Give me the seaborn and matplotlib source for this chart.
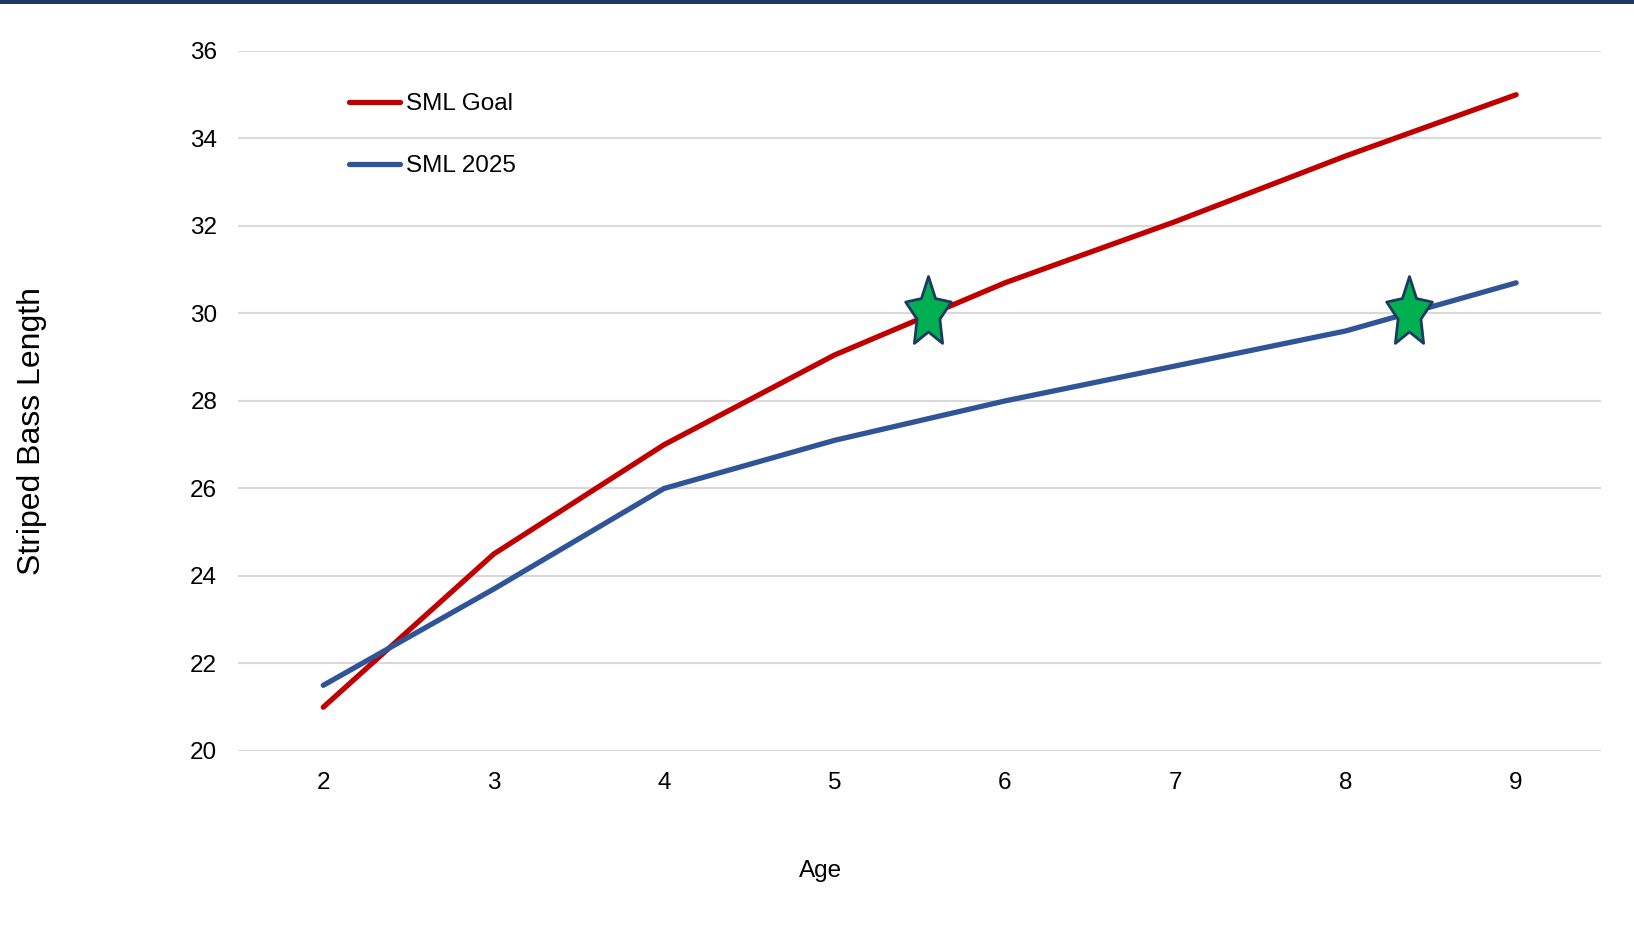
import matplotlib
matplotlib.use("Agg")
import matplotlib.pyplot as plt
import seaborn as sns
import pandas as pd
from matplotlib.path import Path
from matplotlib.patches import Rectangle

# data
ages = [2, 3, 4, 5, 6, 7, 8, 9]
goal_lengths = [21.0, 24.5, 27.0, 29.05, 30.7, 32.1, 33.6, 35.0]
current_lengths = [21.5, 23.7, 26.0, 27.1, 28.0, 28.8, 29.6, 30.7]
series_names = ["SML Goal", "SML 2025"]
star_ages = [5.55, 8.37]
star_lengths = [30, 30]
y_ticks = [20, 22, 24, 26, 28, 30, 32, 34, 36]


def make_plot():
    df = pd.DataFrame({
        "Age": ages * 2,
        "Length": goal_lengths + current_lengths,
        "Series": [series_names[0]] * len(ages) + [series_names[1]] * len(ages),
    })

    sns.set_theme(style="white")
    plt.rcParams["font.family"] = ["Liberation Sans", "DejaVu Sans"]
    plt.rcParams["text.color"] = "black"

    fig = plt.figure(figsize=(16.34, 9.42), dpi=100)
    ax = fig.add_axes([0.1457, 0.2028, 0.98 - 0.1457, 0.9459 - 0.2028])

    sns.lineplot(data=df, x="Age", y="Length", hue="Series", hue_order=series_names,
                 palette=["#C00000", "#2F5597"], linewidth=3.8, ax=ax,
                 solid_capstyle="round")

    # narrow five-point star like the one in the reference
    star = Path.unit_regular_star(5)
    verts = star.vertices.copy()
    verts[:, 0] *= 0.65
    star_marker = Path(verts, star.codes)
    sns.scatterplot(x=star_ages, y=star_lengths, marker=star_marker, s=2830,
                    color="#00B050", edgecolor="#1F3864", linewidth=2.0,
                    ax=ax, zorder=5, legend=False)

    ax.set_xlim(1.5, 9.5)
    ax.set_ylim(20, 36)
    ax.set_xticks(ages)
    ax.set_yticks(y_ticks)
    ax.tick_params(axis="both", length=0, labelsize=17.5, colors="black")
    ax.tick_params(axis="x", pad=15)
    ax.tick_params(axis="y", pad=15)
    ax.grid(axis="y", color="#D9D9D9", linewidth=1.5)
    ax.set_axisbelow(True)
    for s in ax.spines.values():
        s.set_visible(False)

    ax.set_xlabel("")
    ax.set_ylabel("")
    fig.text(0.502, 0.0754, "Age", fontsize=17.5, ha="center", va="center")
    fig.text(0.0195, 0.5425, "Striped Bass Length", rotation=90, fontsize=23,
             ha="center", va="center")

    leg = ax.legend(loc="upper left", bbox_to_anchor=(0.2136, 0.901),
                    bbox_transform=fig.transFigure, frameon=False, fontsize=17.5,
                    handlelength=2.1, handletextpad=0.25, labelspacing=1.65,
                    borderpad=0, borderaxespad=0)
    for line in leg.get_lines():
        line.set_linewidth(3.8)

    # dark band along the top edge
    fig.patches.append(Rectangle((0, 1 - 4 / 942), 1, 4 / 942, transform=fig.transFigure,
                                 facecolor="#1F3864", edgecolor="none"))

    fig.savefig("out.png", dpi=100)


if __name__ == "__main__":
    make_plot()
